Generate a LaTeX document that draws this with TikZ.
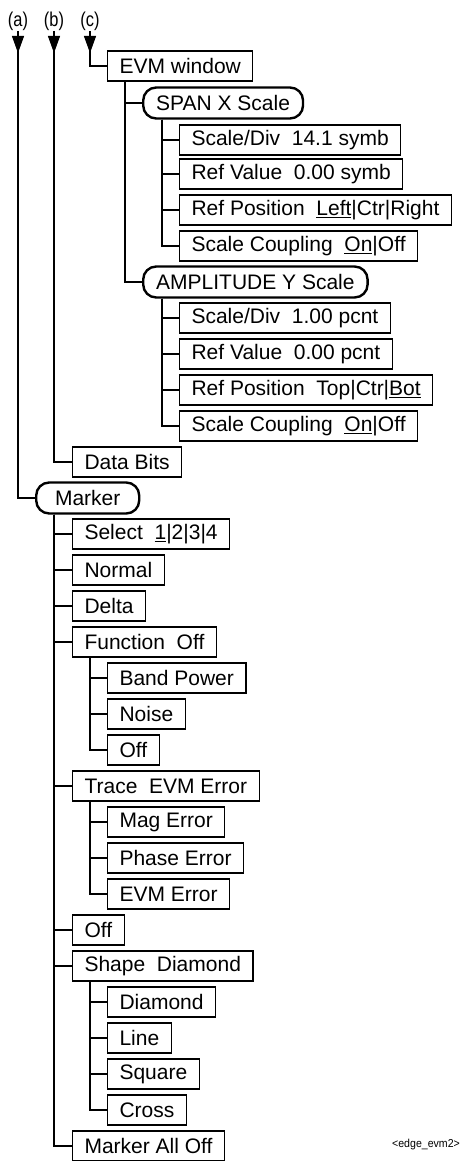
\documentclass[tikz,border=0pt]{standalone}
\usepackage{fontspec}
\setmainfont{Liberation Sans}
\usepackage{graphicx}
\usetikzlibrary{arrows.meta,decorations.markings}

\begin{document}
\begin{tikzpicture}[
      x=1pt, y=1pt,
      font=\fontsize{21}{25}\selectfont,
      key/.style={draw, line width=1.1pt, anchor=west, minimum height=30pt,
                  inner xsep=12pt, inner ysep=0pt},
      menu/.style={draw, line width=2.4pt, rounded corners=13pt, anchor=west,
                   minimum height=31pt, inner xsep=13pt, inner ysep=0pt},
      tag/.style={inner sep=0pt, anchor=south, font=\fontsize{20}{22}\selectfont},
      link/.style={line width=1.1pt},
      trunk/.style={link, postaction={decorate},
                    decoration={markings, mark=at position 22pt with
                                {\arrow{Triangle[length=17pt,width=12pt]}}}},
    ]
    \useasboundingbox (0,0) rectangle (462,-1161);
    % column labels
    \node[tag] (la) at (18,-31) {\scalebox{0.82}[1]{(a)}};
    \node[tag] (lb) at (54,-31) {\scalebox{0.82}[1]{(b)}};
    \node[tag] (lc) at (90,-31) {\scalebox{0.82}[1]{(c)}};
    % EVM window branch
    \node[key]  (evm)   at (107,-66)  {EVM window};
    \node[menu] (spanx) at (142,-103) {SPAN X Scale};
    \node[key]  (sx1)   at (179,-140) {Scale/Div\ \ 14.1 symb};
    \node[key]  (sx2)   at (179,-174) {Ref Value\ \ 0.00 symb};
    \node[key]  (sx3)   at (179,-210) {Ref Position\ \ \underline{Left}|Ctr|Right};
    \node[key]  (sx4)   at (179,-246) {Scale Coupling\ \ \underline{On}|Off};
    \node[menu] (ampy)  at (142,-282) {AMPLITUDE Y Scale};
    \node[key]  (ay1)   at (179,-318) {Scale/Div\ \ 1.00 pcnt};
    \node[key]  (ay2)   at (179,-354) {Ref Value\ \ 0.00 pcnt};
    \node[key]  (ay3)   at (179,-390) {Ref Position\ \ Top|Ctr|\underline{Bot}};
    \node[key]  (ay4)   at (179,-426) {Scale Coupling\ \ \underline{On}|Off};
    % data bits
    \node[key]  (bits)  at (72,-462)  {Data Bits};
    % marker branch
    \node[menu, minimum width=103pt] (marker) at (35,-498) {Marker};
    \node[key]  (sel)   at (72,-534)  {Select\ \ \underline{1}|2|3|4};
    \node[key]  (norm)  at (72,-570)  {Normal};
    \node[key]  (delta) at (72,-606)  {Delta};
    \node[key]  (func)  at (72,-642)  {Function\ \ Off};
    \node[key]  (fn1)   at (107,-678) {Band Power};
    \node[key]  (fn2)   at (107,-714) {Noise};
    \node[key]  (fn3)   at (107,-750) {Off};
    \node[key]  (trace) at (72,-786)  {Trace\ \ EVM Error};
    \node[key]  (tr1)   at (107,-822) {Mag Error};
    \node[key]  (tr2)   at (107,-858) {Phase Error};
    \node[key]  (tr3)   at (107,-894) {EVM Error};
    \node[key]  (moff)  at (72,-930)  {Off};
    \node[key]  (shape) at (72,-966)  {Shape\ \ Diamond};
    \node[key]  (sh1)   at (107,-1002) {Diamond};
    \node[key]  (sh2)   at (107,-1038) {Line};
    \node[key]  (sh3)   at (107,-1074) {Square};
    \node[key]  (sh4)   at (107,-1110) {Cross};
    \node[key]  (alloff) at (72,-1146) {Marker All Off};
    % figure id
    \node[font=\fontsize{11.5}{13}\selectfont] (figid) at (426,-1145)
      {\scalebox{0.92}[1]{<edge\_evm2>}};
    % entry lines
    \draw[trunk] (la) |- (marker.west);
    \draw[trunk] (lb) |- (bits.west);
    \draw[trunk] (lc) |- (evm.west);
    % tree connectors
    \foreach \n in {spanx,ampy}{
      \draw[link] ([xshift=18pt]evm.south west) |- (\n.west);
    }
    \foreach \n in {sx1,sx2,sx3,sx4}{
      \draw[link] ([xshift=20pt]spanx.south west) |- (\n.west);
    }
    \foreach \n in {ay1,ay2,ay3,ay4}{
      \draw[link] ([xshift=20pt]ampy.south west) |- (\n.west);
    }
    \foreach \n in {sel,norm,delta,func,trace,moff,shape,alloff}{
      \draw[link] ([xshift=19pt]marker.south west) |- (\n.west);
    }
    \foreach \n in {fn1,fn2,fn3}{
      \draw[link] ([xshift=18pt]func.south west) |- (\n.west);
    }
    \foreach \n in {tr1,tr2,tr3}{
      \draw[link] ([xshift=18pt]trace.south west) |- (\n.west);
    }
    \foreach \n in {sh1,sh2,sh3,sh4}{
      \draw[link] ([xshift=18pt]shape.south west) |- (\n.west);
    }
  \end{tikzpicture}
\end{document}
